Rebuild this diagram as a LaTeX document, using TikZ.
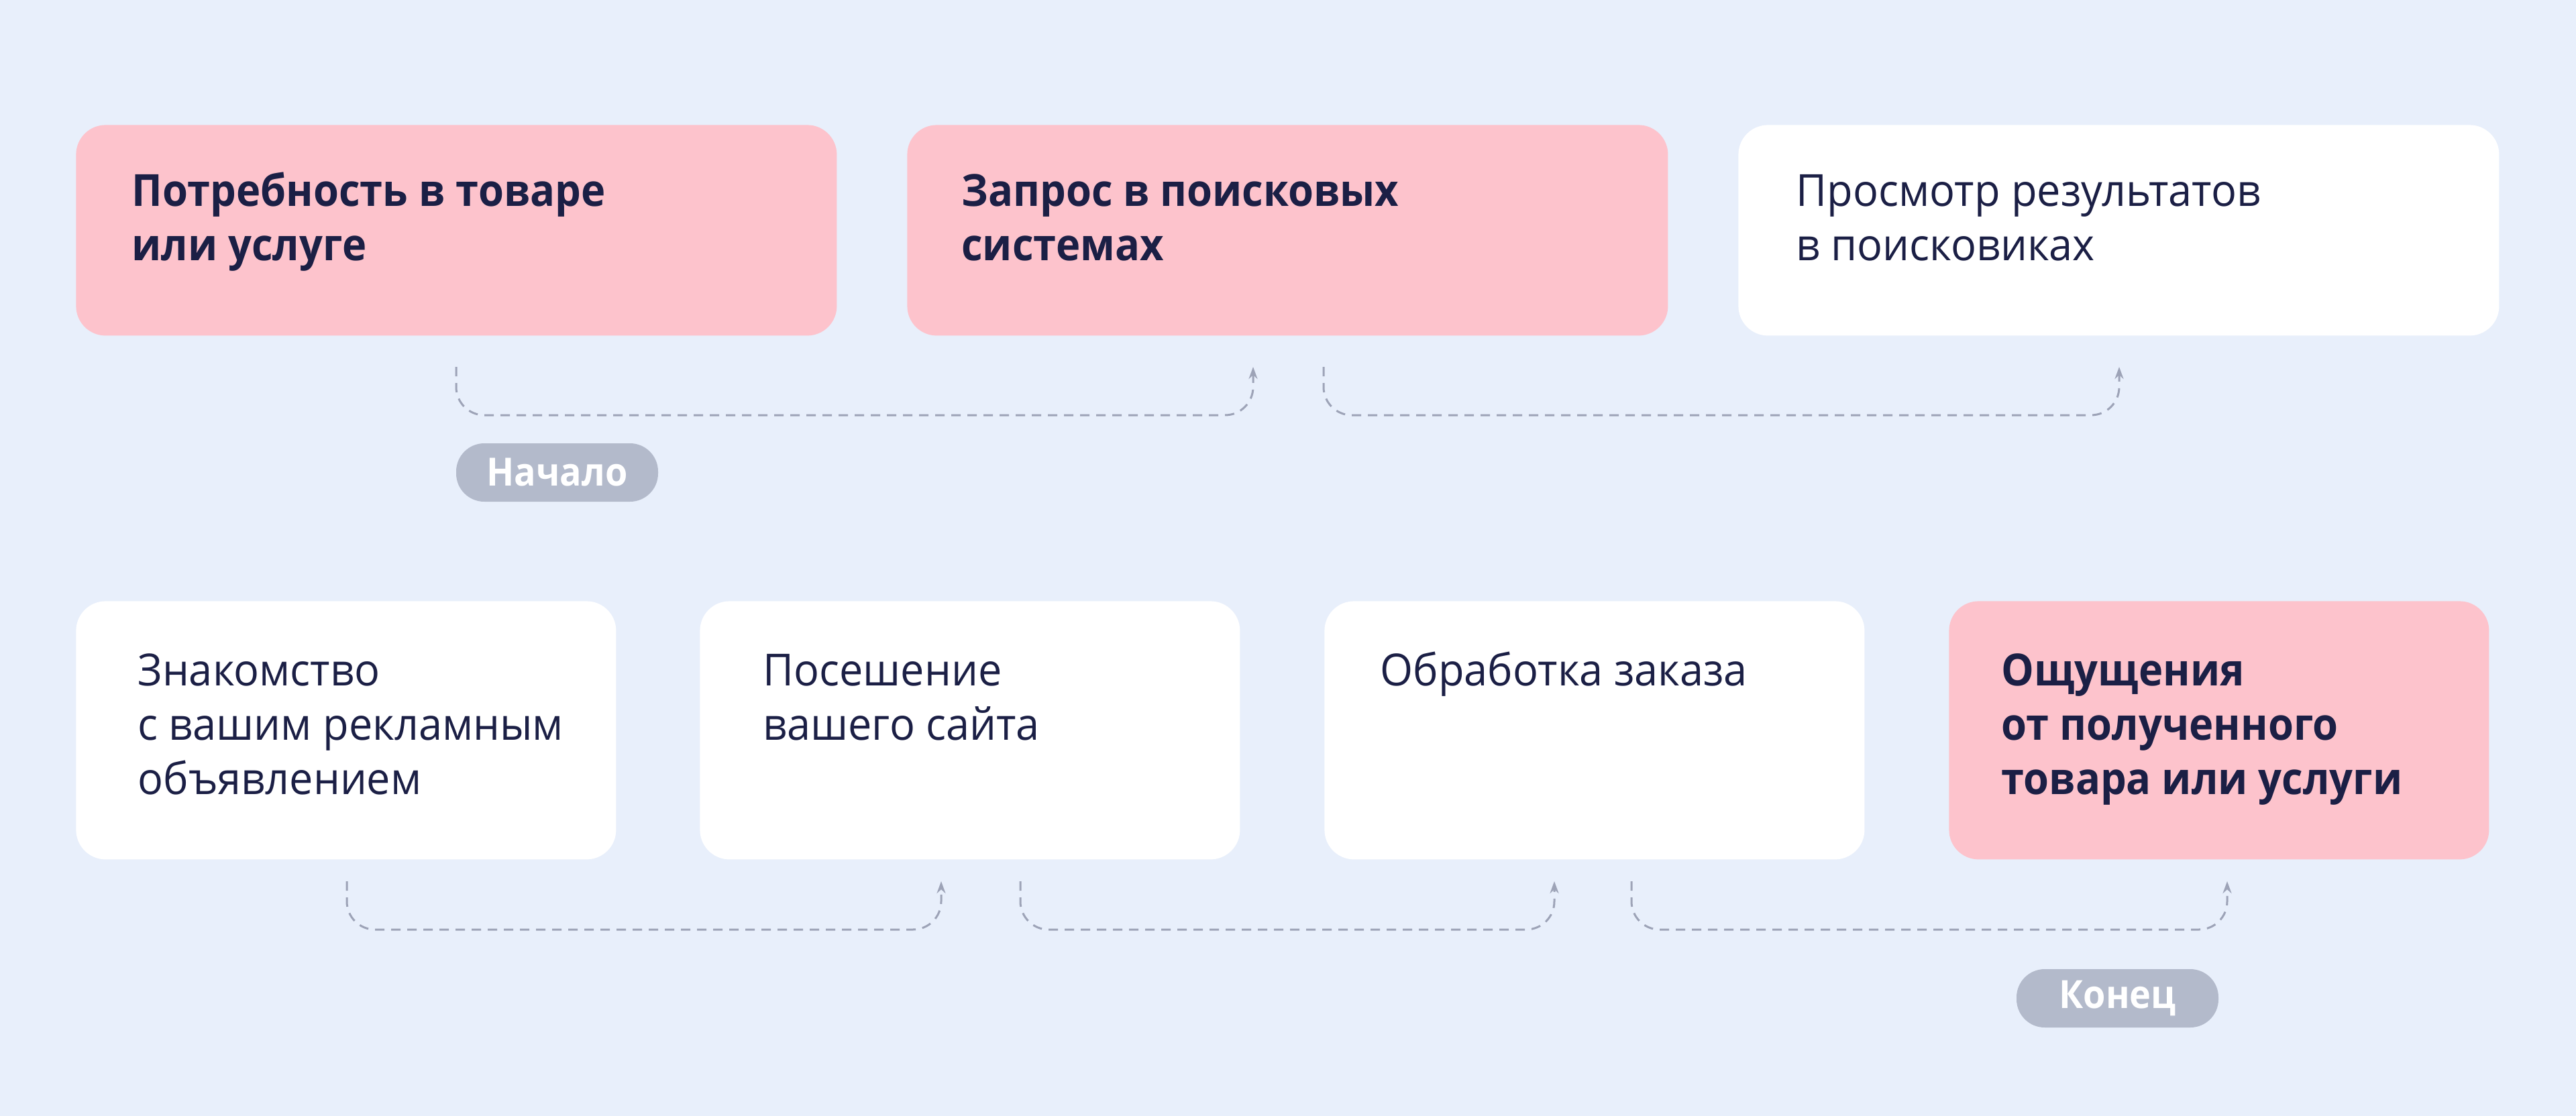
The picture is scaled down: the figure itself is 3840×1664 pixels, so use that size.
\documentclass[tikz,border=0pt]{standalone}
\usepackage{fontspec}
\setmainfont{Open Sans}[FakeStretch=0.955, BoldFeatures={FakeStretch=0.93}]
\usetikzlibrary{arrows.meta,calc}
\definecolor{bg}{HTML}{E8EFFB}
\definecolor{pinkbox}{HTML}{FDC3CC}
\definecolor{ink}{HTML}{1B1F45}
\definecolor{dashc}{HTML}{9DA3B7}
\definecolor{badgec}{HTML}{B3BACB}
\begin{document}
\begin{tikzpicture}[x=0.5pt,y=-0.5pt,
  card/.style={rectangle, rounded corners=22pt, inner sep=0pt, anchor=north west},
  topcard/.style={card, minimum width=567pt, minimum height=157pt},
  botcard/.style={card, minimum width=402.5pt, minimum height=192.5pt},
  pinkfill/.style={fill=pinkbox},
  whitefill/.style={fill=white},
  lbl/.style={anchor=base west, align=left, inner sep=0pt, text=ink, font=\fontsize{33}{40.5}\selectfont},
  boldlbl/.style={lbl, font=\fontsize{33}{40.5}\selectfont\bfseries},
  conn/.style={draw=dashc, line width=1.5pt, dash pattern=on 7pt off 5pt, rounded corners=21pt, -{Stealth[length=9pt,width=6.5pt]}},
  badge/.style={rectangle, rounded corners=21pt, fill=badgec, text=white, minimum width=150.5pt, minimum height=43.5pt, font=\fontsize{29}{34}\selectfont\bfseries, inner sep=0pt}]
\fill[bg] (0,0) rectangle (3840,1664);
\useasboundingbox (0,0) rectangle (3840,1664);

% top row
\node[topcard, pinkfill] (b1) at (113,186) {};
\node[topcard, pinkfill] (b2) at (1352,186) {};
\node[topcard, whitefill] (b3) at (2591,186) {};
% labels are anchored at the baseline of their last line
\node[boldlbl] (t1) at (196,388) {Потребность в товаре\\или услуге};
\node[boldlbl] (t2) at (1433,388) {Запрос в поисковых\\системах};
\node[lbl] (t3) at (2677,388) {Просмотр результатов\\в поисковиках};

% bottom row
\node[botcard, whitefill] (b4) at (113,896) {};
\node[botcard, whitefill] (b5) at (1043,896) {};
\node[botcard, whitefill] (b6) at (1974,896) {};
\node[botcard, pinkfill] (b7) at (2905,896) {};
\node[lbl] (t4) at (205,1184) {Знакомство\\с вашим рекламным\\объявлением};
\node[lbl] (t5) at (1137,1103) {Посешение\\вашего сайта};
\node[lbl] (t6) at (2057,1022) {Обработка заказа};
\node[boldlbl] (t7) at (2983,1184) {Ощущения\\от полученного\\товара или услуги};

% badges
\node[badge] (start) at (830.5,704.5) {Начало};
\node[badge] (finish) at (3156.5,1488.5) {Конец};

% connectors
\coordinate (s1) at (680,547);  \coordinate (e1) at (1868,547);
\coordinate (s2) at (1973,547); \coordinate (e2) at (3159,547);
\coordinate (s3) at (517,1314); \coordinate (e3) at (1403,1314);
\coordinate (s4) at (1521,1314); \coordinate (e4) at (2317,1314);
\coordinate (s5) at (2432,1314); \coordinate (e5) at (3320,1314);
\foreach \i in {1,...,5}{
  \draw[conn] (s\i) |- ($(e\i)+(0,72)$) -- (e\i);
}
\end{tikzpicture}
\end{document}
